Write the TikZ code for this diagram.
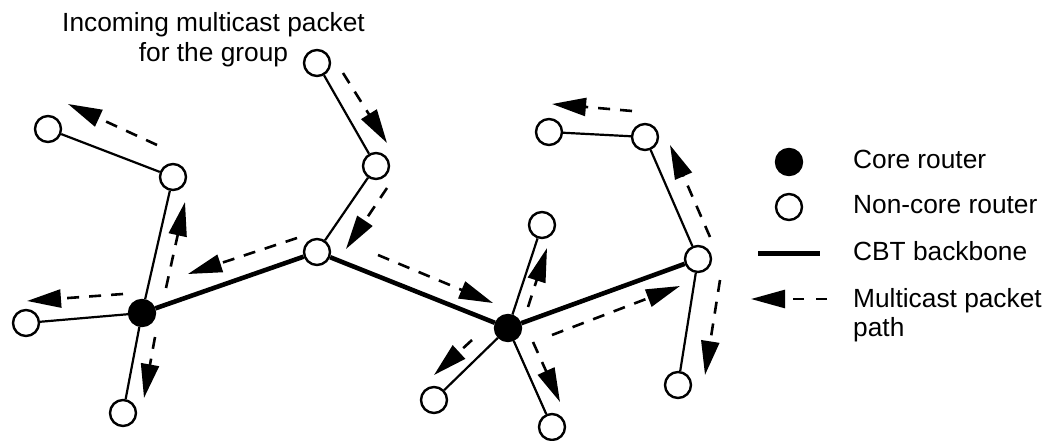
\documentclass[tikz,border=0pt]{standalone}
\usepackage{fontspec}
\setmainfont{Liberation Sans}
\usetikzlibrary{arrows.meta}
\begin{document}
\begin{tikzpicture}[x=1pt,y=-1pt,
  router/.style={circle,draw,line width=2.4pt,minimum size=26pt,inner sep=0pt,fill=white},
  core/.style={router,fill=black},
  thinedge/.style={line width=2.2pt},
  backbone/.style={line width=4.6pt},
  pkt/.style={line width=2.6pt,dash pattern=on 12pt off 10pt,-{Triangle[length=34pt,width=18pt]}},
  lbl/.style={font=\fontsize{26.3}{30}\selectfont,inner sep=0pt,anchor=base west},
  ttl/.style={font=\fontsize{26.3}{30}\selectfont,inner sep=0pt,anchor=base}
]
\useasboundingbox (0,0) rectangle (1051,441);

% routers
\node[router] (L1) at (48,129) {};
\node[router] (L2) at (173,177) {};
\node[core]   (A)  at (142,313) {};
\node[router] (L3) at (26,323) {};
\node[router] (L4) at (123,413) {};
\node[router] (M1) at (317,252) {};
\node[router] (T)  at (317,63) {};
\node[router] (M2) at (376,166) {};
\node[core]   (B)  at (508,328) {};
\node[router] (Bu) at (542,225) {};
\node[router] (Bl) at (434,400) {};
\node[router] (Bb) at (552,427) {};
\node[router] (R1) at (549,132) {};
\node[router] (R2) at (645,137) {};
\node[router] (R3) at (698,259) {};
\node[router] (R4) at (678,385) {};

% links
\draw[thinedge] (L1) -- (L2);
\draw[thinedge] (L2) -- (A);
\draw[thinedge] (A) -- (L3);
\draw[thinedge] (A) -- (L4);
\draw[thinedge] (T) -- (M2);
\draw[thinedge] (M2) -- (M1);
\draw[thinedge] (B) -- (Bu);
\draw[thinedge] (B) -- (Bl);
\draw[thinedge] (B) -- (Bb);
\draw[thinedge] (R1) -- (R2);
\draw[thinedge] (R2) -- (R3);
\draw[thinedge] (R3) -- (R4);
\draw[backbone] (A) -- (M1);
\draw[backbone] (M1) -- (B);
\draw[backbone] (B) -- (R3);

% packet path coordinates
\coordinate (p1s) at (157,145);  \coordinate (p1e) at (68,104);
\coordinate (p2s) at (166,288);  \coordinate (p2e) at (185,202);
\coordinate (p3s) at (297,238);  \coordinate (p3e) at (188,274);
\coordinate (p4s) at (123,294);  \coordinate (p4e) at (27,301);
\coordinate (p5s) at (155,337);  \coordinate (p5e) at (144,398);
\coordinate (p6s) at (343,73);   \coordinate (p6e) at (387,143);
\coordinate (p7s) at (387,188);  \coordinate (p7e) at (346,249);
\coordinate (p8s) at (378,255);  \coordinate (p8e) at (493,303);
\coordinate (p9s) at (528,307);  \coordinate (p9e) at (547,248);
\coordinate (p10s) at (472,340); \coordinate (p10e) at (434,375);
\coordinate (p11s) at (533,342); \coordinate (p11e) at (560,402);
\coordinate (p12s) at (552,335); \coordinate (p12e) at (680,286);
\coordinate (p13s) at (710,237); \coordinate (p13e) at (670,145);
\coordinate (p14s) at (632,111); \coordinate (p14e) at (552,104);
\coordinate (p15s) at (720,280); \coordinate (p15e) at (705,375);

\foreach \i in {1,...,15} { \draw[pkt] (p\i s) -- (p\i e); }

% title text
\node[ttl] (in1) at (213.5,32) {Incoming multicast packet};
\node[ttl] (in2) at (213.5,62) {for the group};

% legend
\node[core]   (lgcore) at (789,162) {};
\node[router] (lgnon)  at (789,207) {};
\coordinate (lgb1) at (758,253); \coordinate (lgb2) at (820,253);
\draw[line width=5pt] (lgb1) -- (lgb2);
\coordinate (lgp1) at (827,299); \coordinate (lgp2) at (751,299);
\draw[pkt,dash pattern=on 11pt off 12pt] (lgp1) -- (lgp2);

\node[lbl] (t1) at (853,168) {Core router};
\node[lbl] (t2) at (853,213) {Non-core router};
\node[lbl] (t3) at (853,260) {CBT backbone};
\node[lbl] (t4) at (853,307) {Multicast packet};
\node[lbl] (t5) at (853,336) {path};
\end{tikzpicture}
\end{document}
